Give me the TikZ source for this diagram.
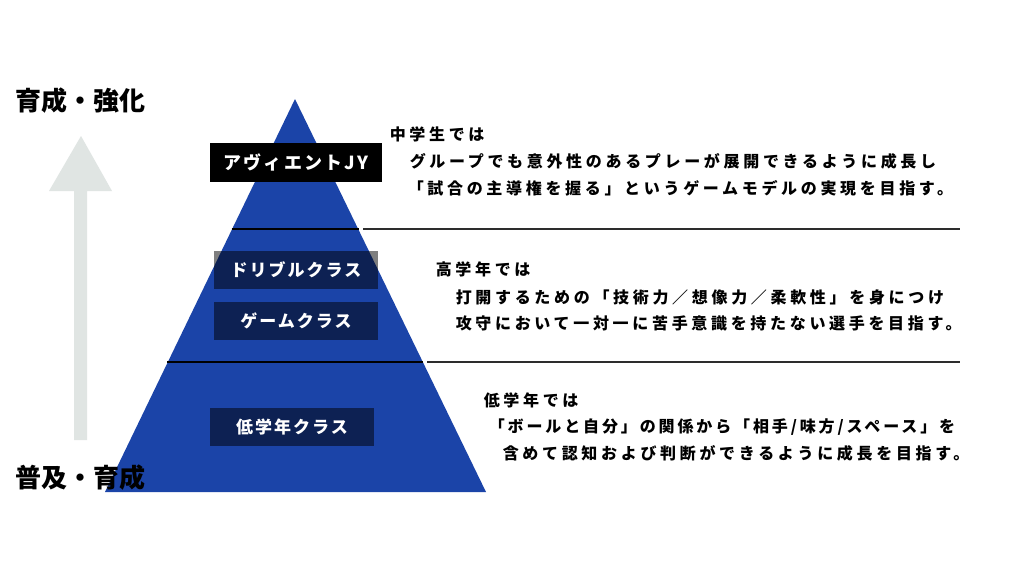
\documentclass[tikz,border=0pt]{standalone}
\usepackage{fontspec}
\newfontfamily\jpnote{Noto Sans CJK JP}[LetterSpace=23]
\newfontfamily\jptight{Noto Sans CJK JP}[LetterSpace=18]
\newfontfamily\jpbox{Noto Sans CJK JP}[LetterSpace=12]
\newfontfamily\jphead{Noto Sans CJK JP}
\definecolor{pyblue}{RGB}{27,68,168}
\definecolor{arrowgray}{RGB}{224,229,227}
\definecolor{rulegray}{RGB}{45,45,45}
\tikzset{
  classbox/.style={fill=black, fill opacity=.5, text opacity=1, text=white,
    minimum width=164, minimum height=38, inner sep=0,
    font=\jpbox\bfseries\fontsize{17}{17}\selectfont},
  note/.style={anchor=west, inner sep=0, font=\jpnote\bfseries\fontsize{16}{16}\selectfont},
  lead/.style={anchor=west, inner sep=0, font=\jphead\bfseries\fontsize{26}{26}\selectfont}
}
\begin{document}
\begin{tikzpicture}[x=1pt, y=-1pt, line width=1.5pt]
\useasboundingbox[fill=white] (0,0) rectangle (1024,576);
% arrow
\fill[arrowgray] (81,136)--(112,191)--(87,191)--(87,440)--(74,440)--(74,191)--(49,191)--cycle;
\node[lead] (up) at (15,101) {育成・強化};
% pyramid
\coordinate (apex) at (295,99);
\coordinate (bl) at (105,492);
\coordinate (br) at (486,492);
\fill[pyblue] (apex)--(br)--(bl)--cycle;
\coordinate (a1) at (231.7,229);
\coordinate (b1) at (358.7,229);
\coordinate (a2) at (167.4,362);
\coordinate (b2) at (423.2,362);
\draw (a1)--(b1);
\draw (a2)--(b2);
\coordinate (c1) at (363,229);
\coordinate (d1) at (960,229);
\coordinate (c2) at (427,362);
\coordinate (d2) at (960,362);
\draw[rulegray] (c1)--(d1);
\draw[rulegray] (c2)--(d2);
\node[lead] (down) at (15,478) {普及・育成};
% classes
\node[classbox, fill opacity=1, minimum width=172, minimum height=39,
  font=\jpbox\bfseries\fontsize{18}{18}\selectfont] (jy) at (296,162.5) {アヴィエントJY};
\node[classbox] (dribble) at (296,270) {ドリブルクラス};
\node[classbox] (game) at (296,321) {ゲームクラス};
\node[classbox] (junior) at (292,427) {低学年クラス};
% notes
\node[note] (jyhead) at (389,134) {中学生では};
\node[note] (jyline1) at (409,161) {グループでも意外性のあるプレーが展開できるように成長し};
\node[note] (jyline2) at (407,188) {「試合の主導権を握る」というゲームモデルの実現を目指す。};
\node[note] (uphead) at (435,269) {高学年では};
\node[note] (upline1) at (455,297) {打開するための「技術力／想像力／柔軟性」を身につけ};
\node[note] (upline2) at (455,323) {攻守において一対一に苦手意識を持たない選手を目指す。};
\node[note] (lowhead) at (483,400) {低学年では};
\node[note, font=\jptight\bfseries\fontsize{16}{16}\selectfont] (lowline1) at (488,427) {「ボールと自分」の関係から「相手/味方/スペース」を};
\node[note] (lowline2) at (502,453) {含めて認知および判断ができるように成長を目指す。};
\end{tikzpicture}
\end{document}
